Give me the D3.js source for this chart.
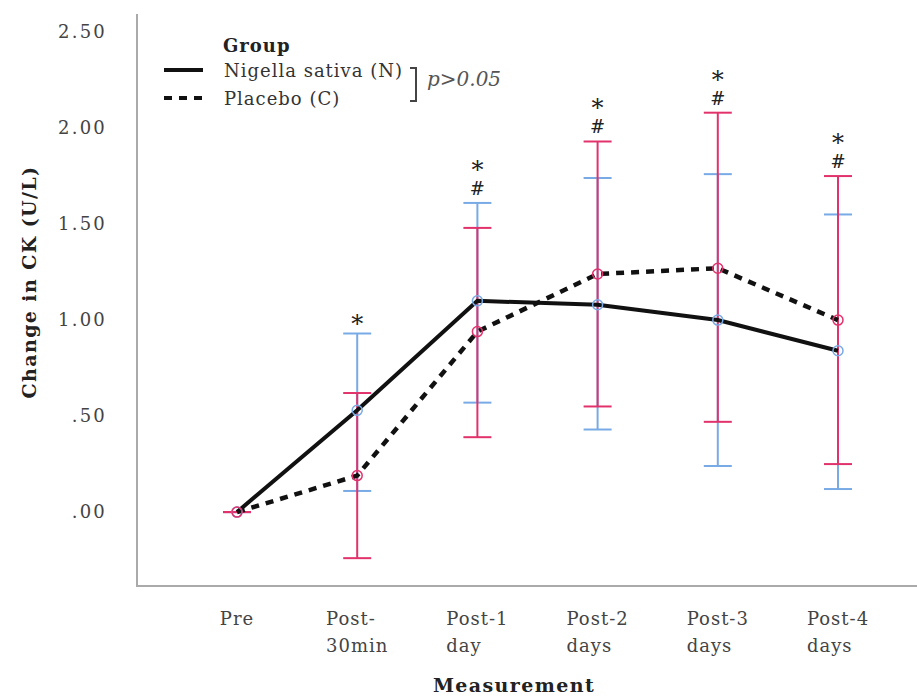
<!DOCTYPE html>
<html>
<head>
<meta charset="utf-8">
<script src="https://cdn.jsdelivr.net/npm/d3@7"></script>
<style>
  body { margin: 0; background: #fff; }
  svg { display: block; }
  text { font-family: "DejaVu Serif", serif; }
</style>
</head>
<body>
<div id="chart"></div>
<script>
// Data
const categories = ["Pre", "Post-30min", "Post-1 day", "Post-2 days", "Post-3 days", "Post-4 days"];
const tickLines = [["Pre"], ["Post-", "30min"], ["Post-1", "day"], ["Post-2", "days"], ["Post-3", "days"], ["Post-4", "days"]];
const nigellaMean = [0, 0.53, 1.10, 1.08, 1.00, 0.84];
const nigellaLow  = [0, 0.11, 0.57, 0.43, 0.24, 0.12];
const nigellaHigh = [0, 0.93, 1.61, 1.74, 1.76, 1.55];
const placeboMean = [0, 0.19, 0.94, 1.24, 1.27, 1.00];
const placeboLow  = [0, -0.24, 0.39, 0.55, 0.47, 0.25];
const placeboHigh = [0, 0.62, 1.48, 1.93, 2.08, 1.75];
const marks = ["", "*", "*#", "*#", "*#", "*#"];
const yTicks = [0, 0.5, 1, 1.5, 2, 2.5];
const groups = ["Nigella sativa (N)", "Placebo (C)"];

const W = 917, H = 700;
const plot = {left: 137, top: 14, right: 917, bottom: 586};
const pink = "#e2326b", blue = "#78abe6";

const svg = d3.select("#chart").append("svg")
    .attr("width", W)
    .attr("height", H);

// Scales
const x = d3.scalePoint()
    .domain(categories)
    .range([237, 838]);
const y = d3.scaleLinear()
    .domain([-0.385, 2.594])
    .range([plot.bottom, plot.top]);

// Y axis (labels only, SPSS style)
const fmt = v => d3.format(".2f")(v).replace(/^0\./, ".");
const yAxis = svg.append("g")
    .attr("transform", `translate(${plot.left},0)`)
    .call(d3.axisLeft(y).tickValues(yTicks).tickFormat(fmt).tickSize(0).tickPadding(30));
yAxis.select(".domain").remove();
yAxis.selectAll("text")
    .attr("font-family", "DejaVu Serif")
    .attr("font-size", 18)
    .attr("letter-spacing", 2.2)
    .attr("fill", "#444");

// Axis frame lines
svg.append("path")
    .attr("d", `M${plot.left},${plot.top}V${plot.bottom}H${plot.right}`)
    .attr("fill", "none")
    .attr("stroke", "#aaa")
    .attr("stroke-width", 2);

// X tick labels, wrapped, left aligned within a centred block
const xLab = svg.append("g");
categories.forEach((c, i) => {
    const t = xLab.append("text")
        .attr("font-size", 18)
        .attr("letter-spacing", 1)
        .attr("fill", "#444");
    tickLines[i].forEach((ln, j) => {
        t.append("tspan")
            .attr("x", 0)
            .attr("y", 625 + j * 27)
            .text(ln);
    });
    const w = t.node().getBBox().width;
    t.attr("transform", `translate(${x(c) - w / 2},0)`);
});

// Axis titles
svg.append("text")
    .attr("x", 514)
    .attr("y", 692)
    .attr("text-anchor", "middle")
    .attr("font-weight", "bold")
    .attr("font-size", 19)
    .attr("letter-spacing", 1.4)
    .attr("fill", "#222")
    .text("Measurement");

svg.append("text")
    .attr("transform", "translate(36,282) rotate(-90)")
    .attr("text-anchor", "middle")
    .attr("font-weight", "bold")
    .attr("font-size", 19)
    .attr("letter-spacing", 1.4)
    .attr("fill", "#222")
    .text("Change in CK (U/L)");

// Error bars
function errorBars(low, high, color) {
    const g = svg.append("g")
        .attr("stroke", color)
        .attr("stroke-width", 2);
    g.selectAll("line.v")
        .data(categories)
        .join("line")
            .attr("class", "v")
            .attr("x1", d => x(d))
            .attr("x2", d => x(d))
            .attr("y1", (d, i) => y(low[i]))
            .attr("y2", (d, i) => y(high[i]));
    g.selectAll("line.hi")
        .data(categories)
        .join("line")
            .attr("class", "hi")
            .attr("x1", d => x(d) - 14)
            .attr("x2", d => x(d) + 14)
            .attr("y1", (d, i) => y(high[i]))
            .attr("y2", (d, i) => y(high[i]));
    g.selectAll("line.lo")
        .data(categories)
        .join("line")
            .attr("class", "lo")
            .attr("x1", d => x(d) - 14)
            .attr("x2", d => x(d) + 14)
            .attr("y1", (d, i) => y(low[i]))
            .attr("y2", (d, i) => y(low[i]));
}
errorBars(nigellaLow, nigellaHigh, blue);
errorBars(placeboLow, placeboHigh, pink);

// Mean lines
const line = d3.line()
    .x((d, i) => x(categories[i]))
    .y(d => y(d));

svg.append("path")
    .datum(nigellaMean)
    .attr("d", line)
    .attr("fill", "none")
    .attr("stroke", "#111")
    .attr("stroke-width", 4);

svg.append("path")
    .datum(placeboMean)
    .attr("d", line)
    .attr("fill", "none")
    .attr("stroke", "#111")
    .attr("stroke-width", 4.5)
    .attr("stroke-dasharray", "8,7");

// Markers
function markers(vals, color) {
    svg.append("g")
        .selectAll("circle")
        .data(vals)
        .join("circle")
            .attr("cx", (d, i) => x(categories[i]))
            .attr("cy", d => y(d))
            .attr("r", 5)
            .attr("fill", "none")
            .attr("stroke", color)
            .attr("stroke-width", 1.5);
}
markers(nigellaMean, blue);
markers(placeboMean, pink);

// Significance marks: "*" stacked over "#" in one text element
const sig = svg.append("g")
    .attr("fill", "#222")
    .attr("text-anchor", "middle")
    .attr("font-family", "DejaVu Sans");
marks.forEach((m, i) => {
    if (!m) return;
    const cx = x(categories[i]);
    const top = y(Math.max(nigellaHigh[i], placeboHigh[i]));
    const hasHash = m.includes("#");
    const t = sig.append("text");
    if (hasHash) {
        t.append("tspan")
            .attr("x", cx)
            .attr("y", top - 25)
            .attr("font-size", 24)
            .text("*");
        t.append("tspan")
            .attr("x", cx)
            .attr("y", top - 8)
            .attr("font-size", 18)
            .text("#");
    } else {
        t.append("tspan")
            .attr("x", cx)
            .attr("y", top - 2)
            .attr("font-size", 24)
            .text("*");
    }
});

// Legend
const leg = svg.append("g");
leg.append("text")
    .attr("x", 223)
    .attr("y", 52)
    .attr("font-weight", "bold")
    .attr("font-size", 18)
    .attr("letter-spacing", 1)
    .attr("fill", "#222")
    .text("Group");
groups.forEach((g, i) => {
    const ly = 70 + i * 28;
    leg.append("line")
        .attr("x1", 164)
        .attr("x2", 203)
        .attr("y1", ly)
        .attr("y2", ly)
        .attr("stroke", "#111")
        .attr("stroke-width", 4)
        .attr("stroke-dasharray", i === 0 ? null : "8,7");
    leg.append("text")
        .attr("x", 224)
        .attr("y", ly + 7)
        .attr("font-size", 18)
        .attr("letter-spacing", 1)
        .attr("fill", "#333")
        .text(g);
});

// Bracket with p value
leg.append("path")
    .attr("d", "M410,68H416V101H410")
    .attr("fill", "none")
    .attr("stroke", "#444")
    .attr("stroke-width", 2);
leg.append("text")
    .attr("x", 427)
    .attr("y", 86)
    .attr("font-family", "Open Sans")
    .attr("font-style", "italic")
    .attr("font-size", 20)
    .attr("fill", "#555")
    .text("p>0.05");
</script>
</body>
</html>
